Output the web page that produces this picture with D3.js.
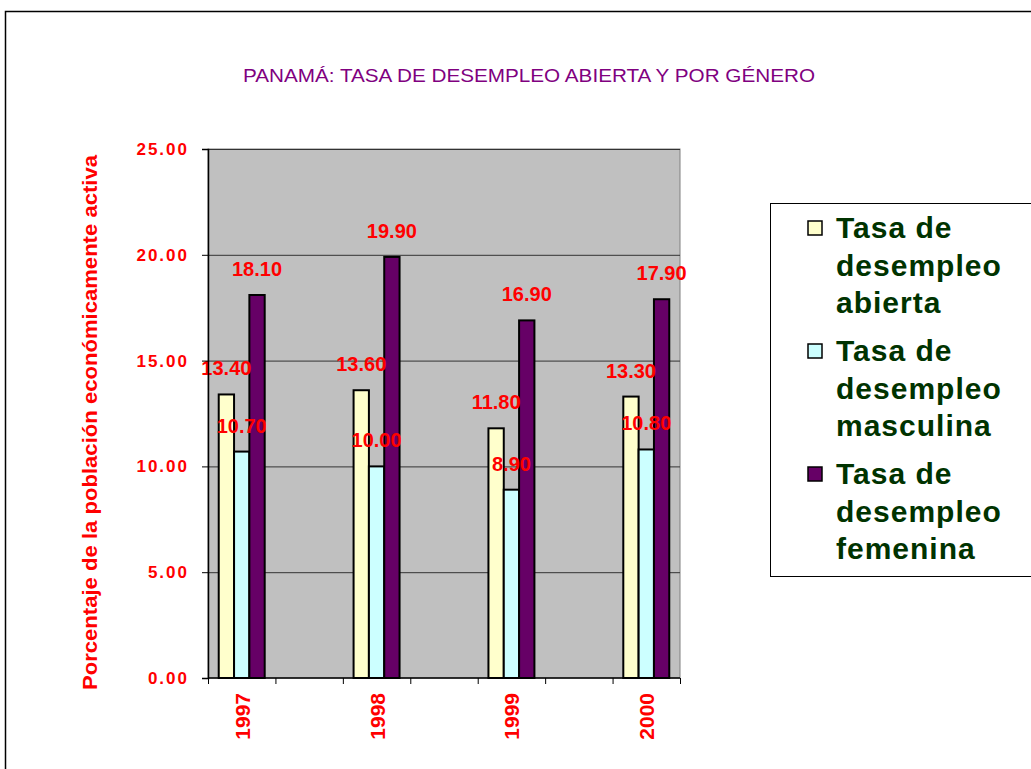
<!DOCTYPE html>
<html>
<head>
<meta charset="utf-8">
<script src="https://cdn.jsdelivr.net/npm/d3@7"></script>
<style>
  body { margin: 0; background: #fff; }
  text { font-family: Arial, "Liberation Sans", sans-serif; }
</style>
</head>
<body>
<div id="chart"></div>
<script>
const width = 1031;
const height = 769;

// categorías (los huecos vacíos separan los años)
const categories = ["1997", "", "1998", "", "1999", "", "2000"];
const series = ["Tasa de desempleo abierta", "Tasa de desempleo masculina", "Tasa de desempleo femenina"];
const abierta   = [13.4, null, 13.6, null, 11.8, null, 13.3];
const masculina = [10.7, null, 10.0, null, 8.9, null, 10.8];
const femenina  = [18.1, null, 19.9, null, 16.9, null, 17.9];
const yTicks = [0, 5, 10, 15, 20, 25];

const colors = ["#FFFFCC", "#CCFFFF", "#660066"];
const legendLines = [
  ["Tasa de", "desempleo", "abierta"],
  ["Tasa de", "desempleo", "masculina"],
  ["Tasa de", "desempleo", "femenina"]
];

const margin = { top: 149, left: 208, right: 351, bottom: 91 };
const plotW = width - margin.left - margin.right;
const plotH = height - margin.top - margin.bottom;

const svg = d3.select("#chart")
  .append("svg")
  .attr("width", width)
  .attr("height", height);

// marco exterior
svg.append("rect")
  .attr("x", 5.5).attr("y", 11.5)
  .attr("width", width).attr("height", height)
  .attr("fill", "none")
  .attr("stroke", "#000")
  .attr("stroke-width", 1.5);

// título
svg.append("text")
  .attr("x", 529).attr("y", 82)
  .attr("text-anchor", "middle")
  .attr("fill", "#800080")
  .attr("font-size", 18)
  .attr("textLength", 572)
  .attr("lengthAdjust", "spacingAndGlyphs")
  .text("PANAMÁ: TASA DE DESEMPLEO ABIERTA Y POR GÉNERO");

const g = svg.append("g").attr("transform", `translate(${margin.left},${margin.top})`);

const x0 = d3.scaleBand().domain(d3.range(categories.length)).range([0, plotW]);
const x1 = d3.scaleBand().domain(d3.range(series.length)).range([0, x0.bandwidth()]).paddingOuter(0.7);
const y = d3.scaleLinear().domain([0, 25]).range([plotH, 0]);

// fondo del área de trazado
g.append("rect")
  .attr("width", plotW).attr("height", plotH)
  .attr("fill", "#C0C0C0")
  .attr("stroke", "#808080")
  .attr("stroke-width", 1);

// líneas de división
g.selectAll("line.grid")
  .data(yTicks.filter(d => d > 0))
  .enter()
  .append("line")
  .attr("class", "grid")
  .attr("x1", 0).attr("x2", plotW)
  .attr("y1", d => y(d) + 0.5).attr("y2", d => y(d) + 0.5)
  .attr("stroke", "#333")
  .attr("stroke-width", 1);

// barras
const rows = categories.map((c, i) => ({ i, c, vals: [abierta[i], masculina[i], femenina[i]] }))
  .filter(d => d.c !== "");

const groups = g.selectAll("g.cat")
  .data(rows)
  .enter()
  .append("g")
  .attr("transform", d => `translate(${x0(d.i)},0)`);

groups.selectAll("rect")
  .data(d => d.vals.map((v, k) => ({ v, k })))
  .enter()
  .append("rect")
  .attr("x", d => x1(d.k))
  .attr("y", d => y(d.v))
  .attr("width", x1.bandwidth())
  .attr("height", d => plotH - y(d.v))
  .attr("fill", d => colors[d.k])
  .attr("stroke", "#000")
  .attr("stroke-width", 2);

// etiquetas de datos
groups.selectAll("text")
  .data(d => d.vals.map((v, k) => ({ v, k })))
  .enter()
  .append("text")
  .attr("x", d => x1(d.k) + x1.bandwidth() / 2)
  .attr("y", d => y(d.v) - 19)
  .attr("text-anchor", "middle")
  .attr("fill", "#FF0000")
  .attr("font-weight", "bold")
  .attr("font-size", 20)
  .text(d => d.v.toFixed(2));

// eje Y
const yAxis = g.append("g")
  .call(d3.axisLeft(y).tickValues(yTicks).tickFormat(d3.format(".2f")).tickSize(6).tickPadding(13));
yAxis.select(".domain").attr("stroke", "#000").attr("stroke-width", 1.5);
yAxis.selectAll(".tick line").attr("stroke", "#000");
yAxis.selectAll(".tick text")
  .attr("fill", "#FF0000")
  .attr("font-weight", "bold")
  .attr("font-size", 17)
  .attr("letter-spacing", 2)
  .attr("font-family", "Arial, 'Liberation Sans', sans-serif");

// eje X
g.append("line")
  .attr("x1", 0).attr("x2", plotW)
  .attr("y1", plotH).attr("y2", plotH)
  .attr("stroke", "#000").attr("stroke-width", 1.5);

const bounds = d3.range(categories.length).map(i => x0(i)).concat([plotW]);
g.selectAll("line.xtick")
  .data(bounds)
  .enter()
  .append("line")
  .attr("x1", d => d + 0.5).attr("x2", d => d + 0.5)
  .attr("y1", plotH).attr("y2", plotH + 6)
  .attr("stroke", "#000");

g.selectAll("text.xlab")
  .data(rows)
  .enter()
  .append("text")
  .attr("transform", d => `translate(${x0(d.i) + x0.bandwidth() / 2 + 8},${plotH + 15}) rotate(-90)`)
  .attr("text-anchor", "end")
  .attr("fill", "#FF0000")
  .attr("font-weight", "bold")
  .attr("font-size", 21)
  .text(d => d.c);

// título del eje Y
svg.append("text")
  .attr("transform", `translate(97,${margin.top + plotH / 2 + 9}) rotate(-90)`)
  .attr("text-anchor", "middle")
  .attr("fill", "#FF0000")
  .attr("font-weight", "bold")
  .attr("font-size", 21)
  .attr("textLength", 535)
  .attr("lengthAdjust", "spacingAndGlyphs")
  .text("Porcentaje de la población económicamente activa");

// leyenda
svg.append("rect")
  .attr("x", 770.5).attr("y", 203.5)
  .attr("width", 300).attr("height", 373)
  .attr("fill", "#fff")
  .attr("stroke", "#000")
  .attr("stroke-width", 1);

const leg = svg.selectAll("g.leg")
  .data(series)
  .enter()
  .append("g")
  .attr("transform", (d, i) => `translate(808,${221 + i * 123})`);

leg.append("rect")
  .attr("width", 14).attr("height", 14)
  .attr("fill", (d, i) => colors[i])
  .attr("stroke", "#000")
  .attr("stroke-width", 1.5);

leg.each(function(d, i) {
  d3.select(this).selectAll("text")
    .data(legendLines[i])
    .enter()
    .append("text")
    .attr("x", 28)
    .attr("y", (t, j) => 17 + j * 37.5)
    .attr("fill", "#003300")
    .attr("font-weight", "bold")
    .attr("font-size", 30)
    .attr("letter-spacing", 1)
    .text(t => t);
});
</script>
</body>
</html>
